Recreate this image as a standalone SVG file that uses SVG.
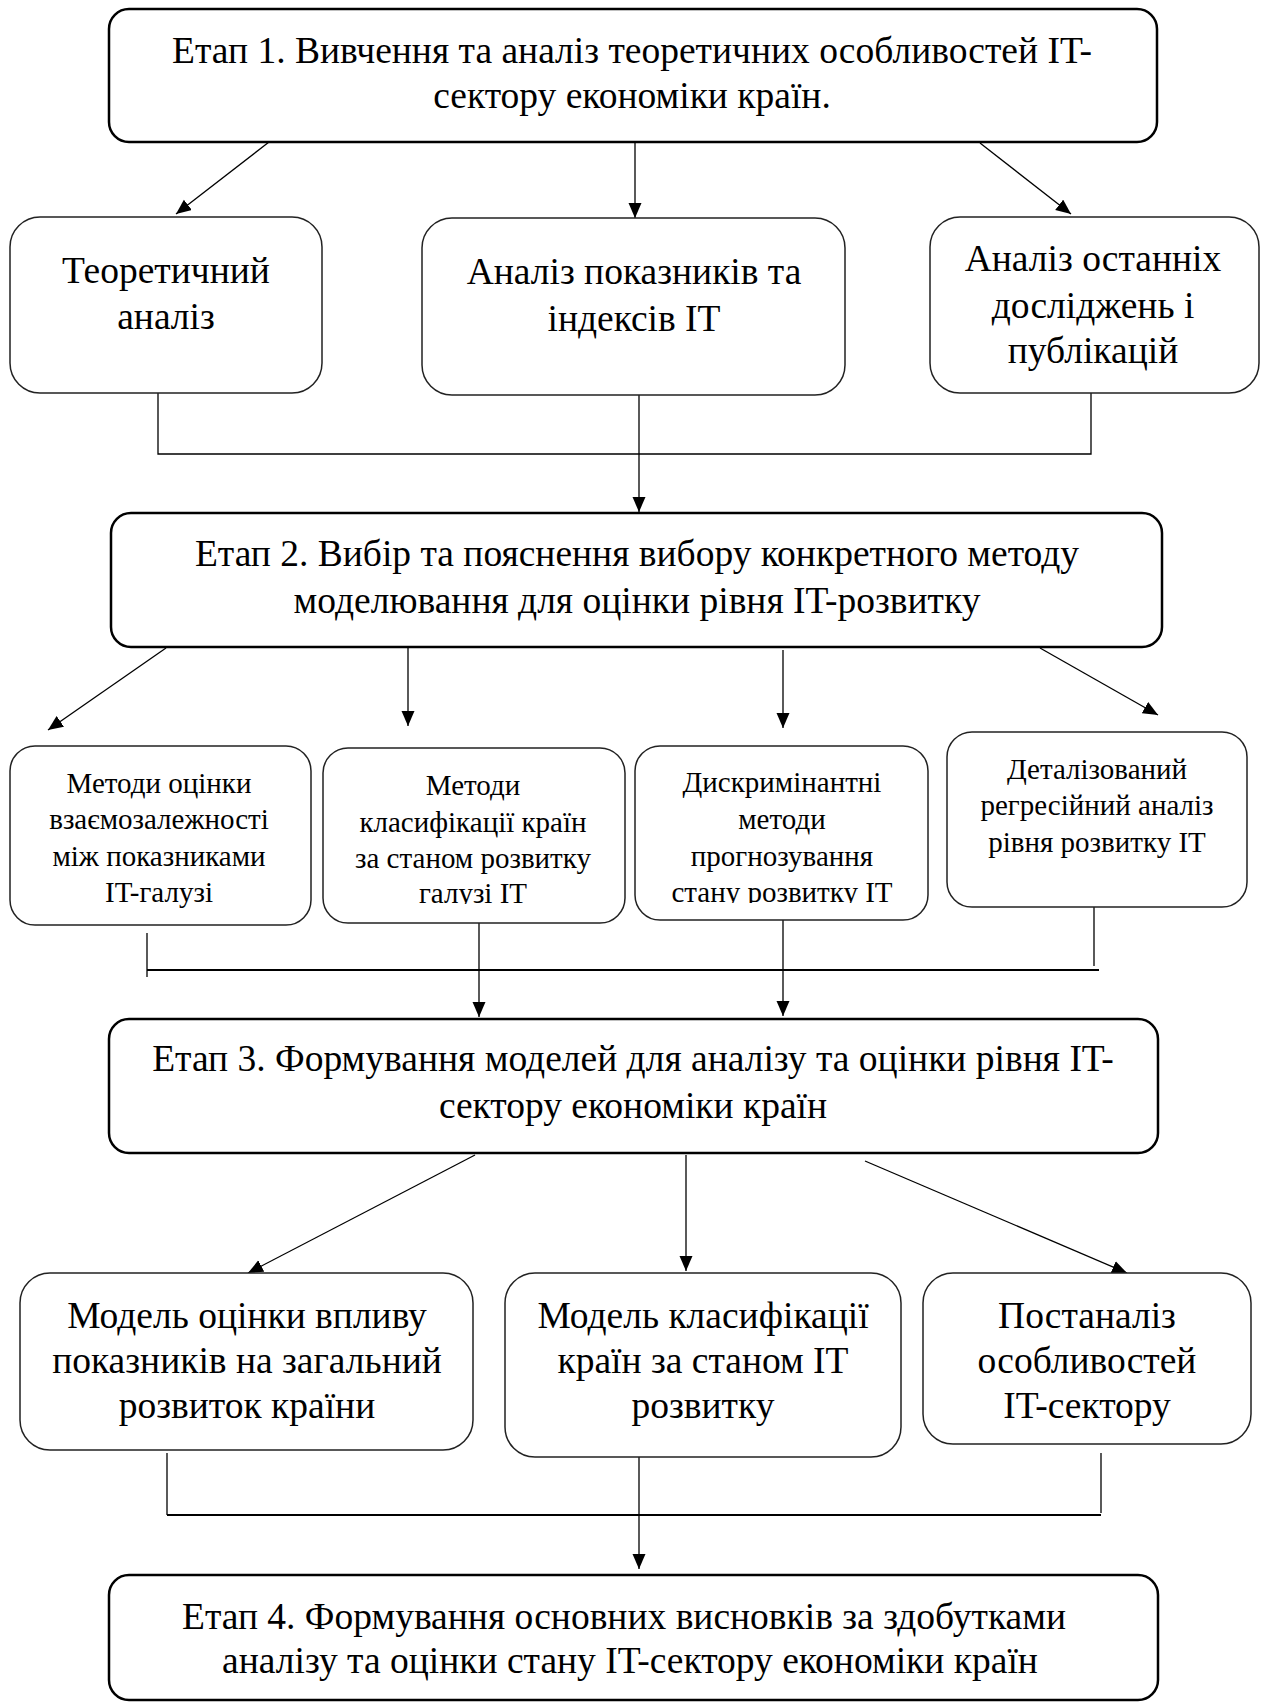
<svg xmlns="http://www.w3.org/2000/svg" width="1264" height="1703" viewBox="0 0 1264 1703">
<style>
.stage{fill:#fff;stroke:#000;stroke-width:2.5}
.box{fill:#fff;stroke:#222;stroke-width:1.5}
.t{font-family:"Liberation Serif","Times New Roman",serif;fill:#000;text-anchor:middle}
.big{font-size:37.5px}
.sm{font-size:29px}
.c{stroke:#000;stroke-width:1.3;fill:none}
.h{stroke:#000;stroke-width:2;fill:none}
</style>
<defs>
<marker id="ah" markerUnits="userSpaceOnUse" markerWidth="16" markerHeight="14" refX="15" refY="6.5" orient="auto"><path d="M0,0 L15,6.5 L0,13 z" fill="#000"/></marker>
<clipPath id="clipE"><rect x="323" y="740" width="302" height="164"/></clipPath>
<clipPath id="clipF"><rect x="635" y="740" width="293" height="163"/></clipPath>
</defs>

<g id="connectors">
<line class="c" x1="269" y1="142" x2="176" y2="214" marker-end="url(#ah)"/>
<line class="c" x1="635" y1="142" x2="635" y2="218" marker-end="url(#ah)"/>
<line class="c" x1="980" y1="143" x2="1071" y2="214" marker-end="url(#ah)"/>
<polyline class="c" points="158,393 158,454 1091,454 1091,393"/>
<line class="c" x1="639" y1="395" x2="639" y2="512" marker-end="url(#ah)"/>
<line class="c" x1="166" y1="648" x2="48" y2="730" marker-end="url(#ah)"/>
<line class="c" x1="408" y1="648" x2="408" y2="726" marker-end="url(#ah)"/>
<line class="c" x1="783" y1="650" x2="783" y2="728" marker-end="url(#ah)"/>
<line class="c" x1="1040" y1="648" x2="1158" y2="715" marker-end="url(#ah)"/>
<line class="c" x1="147" y1="933" x2="147" y2="977"/>
<line class="h" x1="147" y1="970" x2="1099" y2="970"/>
<line class="c" x1="1094" y1="907" x2="1094" y2="966"/>
<line class="c" x1="479" y1="923" x2="479" y2="1017" marker-end="url(#ah)"/>
<line class="c" x1="783" y1="920" x2="783" y2="1016" marker-end="url(#ah)"/>
<line class="c" x1="475" y1="1155" x2="248" y2="1273" marker-end="url(#ah)"/>
<line class="c" x1="686" y1="1155" x2="686" y2="1271" marker-end="url(#ah)"/>
<line class="c" x1="865" y1="1161" x2="1127" y2="1273" marker-end="url(#ah)"/>
<line class="c" x1="167" y1="1453" x2="167" y2="1515"/>
<line class="h" x1="167" y1="1515" x2="1101" y2="1515"/>
<line class="c" x1="1101" y1="1453" x2="1101" y2="1513"/>
<line class="c" x1="639" y1="1457" x2="639" y2="1569" marker-end="url(#ah)"/>
</g>

<g id="stage1">
<rect class="stage" x="109" y="9" width="1048" height="133" rx="20"/>
<text class="t big" x="632" y="63">Етап 1. Вивчення та аналіз теоретичних особливостей  IT-</text>
<text class="t big" x="632" y="108">сектору економіки країн.</text>
</g>

<g id="n_theory">
<rect class="box" x="10" y="217" width="312" height="176" rx="30"/>
<text class="t big" x="166" y="283">Теоретичний</text>
<text class="t big" x="166" y="329">аналіз</text>
</g>
<g id="n_indicators">
<rect class="box" x="422" y="218" width="423" height="177" rx="30"/>
<text class="t big" x="634" y="284">Аналіз показників та</text>
<text class="t big" x="634" y="331">індексів IT</text>
</g>
<g id="n_research">
<rect class="box" x="930" y="217" width="329" height="176" rx="30"/>
<text class="t big" x="1093" y="271">Аналіз останніх</text>
<text class="t big" x="1093" y="318">досліджень і</text>
<text class="t big" x="1093" y="363">публікацій</text>
</g>

<g id="stage2">
<rect class="stage" x="111" y="513" width="1051" height="134" rx="20"/>
<text class="t big" x="637" y="566">Етап 2. Вибір та пояснення вибору конкретного методу</text>
<text class="t big" x="637" y="613">моделювання для оцінки рівня IT-розвитку</text>
</g>

<g id="n_interdep">
<rect class="box" x="10" y="746" width="301" height="179" rx="25"/>
<text class="t sm" x="159" y="793">Методи оцінки</text>
<text class="t sm" x="159" y="829">взаємозалежності</text>
<text class="t sm" x="159" y="866">між показниками</text>
<text class="t sm" x="159" y="902">IT-галузі</text>
</g>
<g id="n_classif">
<rect class="box" x="323" y="748" width="302" height="175" rx="25"/>
<g clip-path="url(#clipE)">
<text class="t sm" x="473" y="795">Методи</text>
<text class="t sm" x="473" y="832">класифікації країн</text>
<text class="t sm" x="473" y="868">за станом розвитку</text>
<text class="t sm" x="473" y="903">галузі IT</text>
</g>
</g>
<g id="n_discrim">
<rect class="box" x="635" y="746" width="293" height="174" rx="25"/>
<g clip-path="url(#clipF)">
<text class="t sm" x="782" y="792">Дискримінантні</text>
<text class="t sm" x="782" y="829">методи</text>
<text class="t sm" x="782" y="866">прогнозування</text>
<text class="t sm" x="782" y="902">стану розвитку IT</text>
</g>
</g>
<g id="n_regress">
<rect class="box" x="947" y="732" width="300" height="175" rx="25"/>
<text class="t sm" x="1097" y="779">Деталізований</text>
<text class="t sm" x="1097" y="815">регресійний аналіз</text>
<text class="t sm" x="1097" y="852">рівня розвитку IT</text>
</g>

<g id="stage3">
<rect class="stage" x="109" y="1019" width="1049" height="134" rx="20"/>
<text class="t big" x="633" y="1071">Етап 3. Формування моделей для аналізу та оцінки рівня IT-</text>
<text class="t big" x="633" y="1118">сектору економіки країн</text>
</g>

<g id="n_model_impact">
<rect class="box" x="20" y="1273" width="453" height="177" rx="30"/>
<text class="t big" x="247" y="1328">Модель оцінки впливу</text>
<text class="t big" x="247" y="1373">показників на загальний</text>
<text class="t big" x="247" y="1418">розвиток країни</text>
</g>
<g id="n_model_classif">
<rect class="box" x="505" y="1273" width="396" height="184" rx="30"/>
<text class="t big" x="703" y="1328">Модель класифікації</text>
<text class="t big" x="703" y="1373">країн за станом IT</text>
<text class="t big" x="703" y="1418">розвитку</text>
</g>
<g id="n_postanalysis">
<rect class="box" x="923" y="1273" width="328" height="171" rx="30"/>
<text class="t big" x="1087" y="1328">Постаналіз</text>
<text class="t big" x="1087" y="1373">особливостей</text>
<text class="t big" x="1087" y="1418">IT-сектору</text>
</g>

<g id="stage4">
<rect class="stage" x="109" y="1575" width="1049" height="125" rx="20"/>
<text class="t big" x="624" y="1629">Етап 4. Формування основних висновків за здобутками</text>
<text class="t big" x="630" y="1673">аналізу та оцінки стану IT-сектору економіки країн</text>
</g>
</svg>
